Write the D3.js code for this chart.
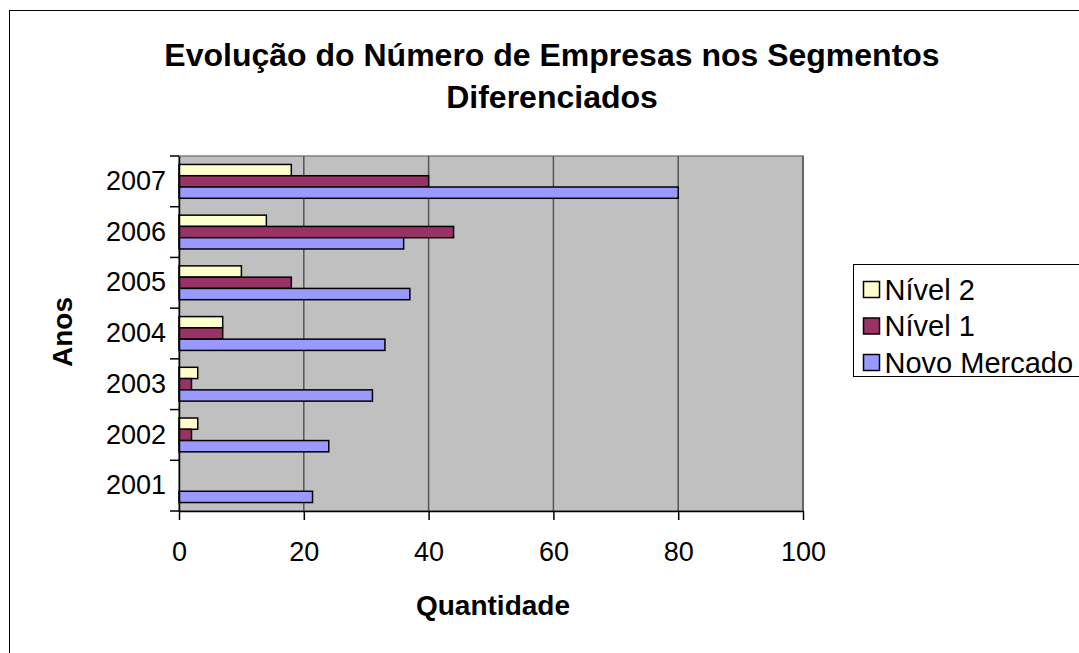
<!DOCTYPE html>
<html>
<head>
<meta charset="utf-8">
<script src="https://cdn.jsdelivr.net/npm/d3@7"></script>
<style>
  body { margin: 0; background: #fff; }
  svg { display: block; font-family: "Liberation Sans", Arial, sans-serif; }
</style>
</head>
<body>
<div id="chart"></div>
<script>
const width = 1079;
const height = 653;

// data
const years = ['2001', '2002', '2003', '2004', '2005', '2006', '2007'];
const nivel2 = [0, 3, 3, 7, 10, 14, 18];
const nivel1 = [0, 2, 2, 7, 18, 44, 40];
const novoMercado = [21.4, 24, 31, 33, 37, 36, 80];
const xTicks = [0, 20, 40, 60, 80, 100];

const series = [
    {name: 'Nível 2', values: nivel2, color: '#FFFFCC'},
    {name: 'Nível 1', values: nivel1, color: '#993366'},
    {name: 'Novo Mercado', values: novoMercado, color: '#9999FF'},
];

const plot = {left: 179, right: 803, top: 156, bottom: 511};
const fontFamily = '"Liberation Sans", Arial, sans-serif';

const svg = d3.select('#chart').append('svg')
    .attr('width', width)
    .attr('height', height);

// chart frame (runs off the right and bottom edge like the original)
svg.append('rect')
    .attr('x', 9.5).attr('y', 10.5)
    .attr('width', width + 20).attr('height', height + 20)
    .attr('fill', '#fff')
    .attr('stroke', '#000')
    .attr('stroke-width', 1);

const x = d3.scaleLinear().domain([0, 100]).range([plot.left, plot.right]);
// 2007 on top, gap width 150%
const y = d3.scaleBand().domain(years.slice().reverse()).range([plot.top, plot.bottom])
    .paddingInner(0.333).paddingOuter(0.1667);
const yBand = d3.scaleBand().domain(years.slice().reverse()).range([plot.top, plot.bottom]);
const ySub = d3.scaleBand().domain(series.map(s => s.name)).range([0, y.bandwidth()]);

// plot area
svg.append('rect')
    .attr('x', plot.left).attr('y', plot.top)
    .attr('width', plot.right - plot.left).attr('height', plot.bottom - plot.top)
    .attr('fill', '#C0C0C0')
    .attr('stroke', '#808080')
    .attr('stroke-width', 1.5);

// vertical gridlines
svg.append('g')
    .selectAll('line')
    .data(xTicks.slice(1))
    .join('line')
    .attr('x1', d => x(d)).attr('x2', d => x(d))
    .attr('y1', plot.top).attr('y2', plot.bottom)
    .attr('stroke', '#555')
    .attr('stroke-width', 1.5);

// bars
const groups = svg.append('g')
    .selectAll('g')
    .data(years)
    .join('g')
    .attr('transform', d => `translate(0,${y(d)})`);

groups.selectAll('rect')
    .data((yr, i) => series.map(s => ({name: s.name, color: s.color, value: s.values[i]})))
    .join('rect')
    .filter(d => d.value > 0)
    .attr('x', x(0))
    .attr('y', d => ySub(d.name))
    .attr('width', d => x(d.value) - x(0))
    .attr('height', ySub.bandwidth())
    .attr('fill', d => d.color)
    .attr('stroke', '#000')
    .attr('stroke-width', 1.5);

// y axis
const yAxis = d3.axisLeft(yBand).tickSize(0).tickPadding(13);
const gy = svg.append('g')
    .attr('transform', `translate(${plot.left},0)`)
    .call(yAxis);
gy.select('.domain').attr('stroke', '#000').attr('stroke-width', 1.5);
gy.selectAll('text').attr('font-size', 27).attr('fill', '#000').attr('font-family', fontFamily);
// tick marks on the band boundaries
gy.append('g')
    .selectAll('line')
    .data(years.concat(['end']))
    .join('line')
    .attr('x1', -9).attr('x2', 0)
    .attr('y1', (d, i) => i < years.length ? yBand(d) : plot.bottom)
    .attr('y2', (d, i) => i < years.length ? yBand(d) : plot.bottom)
    .attr('stroke', '#000')
    .attr('stroke-width', 1.5);

// x axis
const xAxis = d3.axisBottom(x).tickValues(xTicks).tickSize(9).tickSizeOuter(0).tickPadding(22);
const gx = svg.append('g')
    .attr('transform', `translate(0,${plot.bottom})`)
    .call(xAxis);
gx.select('.domain').attr('stroke', '#000').attr('stroke-width', 1.5);
gx.selectAll('.tick line').attr('stroke', '#000').attr('stroke-width', 1.5);
gx.selectAll('text').attr('font-size', 27).attr('fill', '#000').attr('font-family', fontFamily);

// title
const title = svg.append('text')
    .attr('text-anchor', 'middle')
    .attr('font-size', 32)
    .attr('font-weight', 'bold');
title.append('tspan').attr('x', 552).attr('y', 66).text('Evolução do Número de Empresas nos Segmentos');
title.append('tspan').attr('x', 552).attr('y', 108).text('Diferenciados');

// axis titles
svg.append('text')
    .attr('x', 493).attr('y', 615)
    .attr('text-anchor', 'middle')
    .attr('font-size', 28)
    .attr('font-weight', 'bold')
    .text('Quantidade');

svg.append('text')
    .attr('transform', 'translate(72,332) rotate(-90)')
    .attr('text-anchor', 'middle')
    .attr('font-size', 28)
    .attr('font-weight', 'bold')
    .text('Anos');

// legend
const legend = svg.append('g').attr('transform', 'translate(853.5,264.5)');
legend.append('rect')
    .attr('width', 260).attr('height', 112)
    .attr('fill', '#fff')
    .attr('stroke', '#000')
    .attr('stroke-width', 1);

const item = legend.selectAll('g')
    .data(series)
    .join('g')
    .attr('transform', (d, i) => `translate(10,${25 + i * 36.5})`);
item.append('rect')
    .attr('x', 0).attr('y', -8)
    .attr('width', 16).attr('height', 16)
    .attr('fill', d => d.color)
    .attr('stroke', '#000')
    .attr('stroke-width', 1.5);
item.append('text')
    .attr('x', 21).attr('y', 10)
    .attr('font-size', 29)
    .text(d => d.name);
</script>
</body>
</html>
